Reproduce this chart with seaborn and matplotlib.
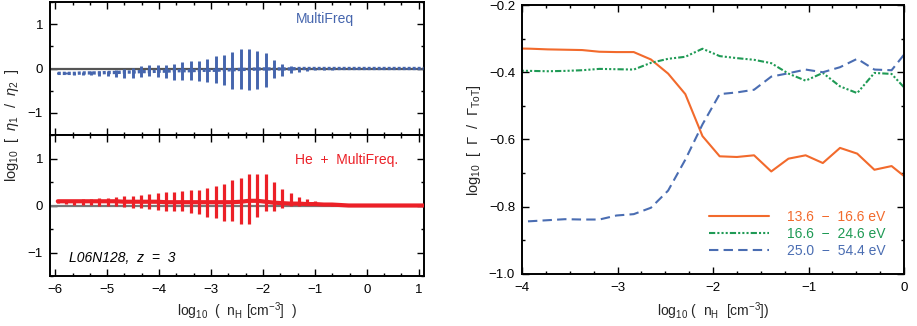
import numpy as np
import pandas as pd
import matplotlib
matplotlib.use("Agg")
import matplotlib.pyplot as plt
from matplotlib.ticker import MultipleLocator, AutoMinorLocator
import seaborn as sns

sns.set_theme(style="ticks")
plt.rcParams['font.family'] = ['Liberation Sans', 'DejaVu Sans']
plt.rcParams['mathtext.fontset'] = 'custom'
plt.rcParams['mathtext.rm'] = 'Liberation Sans'
plt.rcParams['mathtext.it'] = 'Liberation Sans:italic'

# ---------------- left panels data ----------------
nh_bins = [-5.95, -5.79, -5.63, -5.47, -5.31, -5.15, -4.99, -4.83, -4.67, -4.51,
           -4.35, -4.19, -4.03, -3.87, -3.71, -3.55, -3.39, -3.23, -3.07, -2.91,
           -2.75, -2.59, -2.43, -2.27, -2.11, -1.95, -1.79, -1.63, -1.47, -1.31,
           -1.15, -0.99, -0.83, -0.67, -0.51, -0.35, -0.19, -0.03, 0.13, 0.29,
           0.45, 0.61, 0.77, 0.93, 1.09]

mf_med = [-0.11, -0.11, -0.11, -0.10, -0.10, -0.10, -0.09, -0.09, -0.08, -0.08,
          -0.07, -0.07, -0.06, -0.06, -0.05, -0.05, -0.05, -0.04, -0.04, -0.04,
          -0.03, -0.03, -0.02, -0.02, -0.01, -0.01, -0.01, -0.01, -0.01, 0.0,
          0.0, 0.0, 0.0, 0.0, 0.0, 0.0, 0.0, 0.0, 0.0, 0.0,
          0.0, 0.0, 0.0, 0.0, 0.0]
mf_lo = [-0.13, -0.13, -0.14, -0.14, -0.15, -0.16, -0.17, -0.19, -0.21, -0.22,
         -0.19, -0.17, -0.19, -0.22, -0.25, -0.27, -0.25, -0.28, -0.30, -0.32,
         -0.37, -0.46, -0.47, -0.49, -0.47, -0.41, -0.21, -0.16, -0.11, -0.08,
         -0.05, -0.04, -0.03, -0.03, -0.02, -0.02, -0.02, -0.02, -0.02, -0.02,
         -0.02, -0.02, -0.02, -0.02, -0.02]
mf_hi = [-0.08, -0.08, -0.07, -0.07, -0.06, -0.05, -0.05, -0.04, -0.02, 0.015,
         0.05, 0.07, 0.07, 0.09, 0.11, 0.15, 0.18, 0.16, 0.22, 0.28,
         0.30, 0.37, 0.45, 0.45, 0.40, 0.34, 0.20, 0.10, 0.05, 0.015,
         0.0, 0.0, 0.0, 0.0, 0.01, 0.01, 0.01, 0.01, 0.01, 0.01,
         0.01, 0.01, 0.01, 0.01, 0.01]

he_med = [0.09, 0.09, 0.09, 0.09, 0.09, 0.09, 0.09, 0.09, 0.08, 0.08,
          0.08, 0.08, 0.08, 0.07, 0.07, 0.07, 0.07, 0.07, 0.07, 0.07,
          0.07, 0.07, 0.08, 0.10, 0.10, 0.08, 0.06, 0.05, 0.04, 0.04,
          0.03, 0.03, 0.02, 0.02, 0.01, 0.0, 0.0, 0.0, 0.0, 0.0,
          0.0, 0.0, 0.0, 0.0, 0.0]
he_lo = [0.06, 0.04, 0.02, 0.01, 0.01, 0.0, -0.01, -0.01, -0.03, -0.05,
         -0.06, -0.07, -0.09, -0.11, -0.12, -0.12, -0.16, -0.18, -0.24, -0.26,
         -0.32, -0.33, -0.39, -0.39, -0.25, -0.11, -0.11, -0.05, -0.01, 0.0,
         0.02, 0.02, 0.01, 0.0, -0.01, -0.01, -0.01, -0.01, -0.01, -0.01,
         -0.01, -0.01, -0.01, -0.01, -0.01]
he_hi = [0.11, 0.11, 0.11, 0.13, 0.14, 0.15, 0.16, 0.18, 0.20, 0.21,
         0.23, 0.25, 0.26, 0.28, 0.29, 0.30, 0.32, 0.34, 0.38, 0.41,
         0.46, 0.54, 0.59, 0.66, 0.67, 0.67, 0.50, 0.35, 0.27, 0.18,
         0.13, 0.09, 0.06, 0.04, 0.02, 0.01, 0.01, 0.01, 0.01, 0.01,
         0.01, 0.01, 0.01, 0.01, 0.01]

# ---------------- right panel data ----------------
nh_r = [-4.09, -3.91, -3.73, -3.55, -3.37, -3.19, -3.01, -2.83, -2.65, -2.47,
        -2.29, -2.11, -1.93, -1.75, -1.57, -1.39, -1.21, -1.03, -0.85, -0.67,
        -0.49, -0.31, -0.13, 0.05]
g_136_166 = [-0.329, -0.330, -0.332, -0.333, -0.334, -0.339, -0.340, -0.340, -0.362, -0.404,
             -0.465, -0.590, -0.650, -0.652, -0.647, -0.695, -0.657, -0.647, -0.670, -0.625,
             -0.642, -0.690, -0.679, -0.720]
g_166_246 = [-0.395, -0.396, -0.397, -0.396, -0.394, -0.390, -0.391, -0.392, -0.372, -0.360,
             -0.354, -0.330, -0.352, -0.358, -0.363, -0.373, -0.404, -0.425, -0.402, -0.442,
             -0.462, -0.402, -0.405, -0.460]
g_250_544 = [-0.845, -0.843, -0.840, -0.837, -0.838, -0.838, -0.826, -0.822, -0.803, -0.752,
             -0.660, -0.555, -0.465, -0.460, -0.452, -0.413, -0.403, -0.392, -0.400, -0.385,
             -0.360, -0.392, -0.394, -0.330]
band_labels = ["13.6  \u2212  16.6 eV", "16.6  \u2212  24.6 eV", "25.0  \u2212  54.4 eV"]

BLUE = "#4565ad"
RED = "#ec2027"
ORANGE = "#f26a2c"
GREEN = "#1f9a55"
LBLUE = "#4a6db2"

W, H = 917, 326
fig = plt.figure(figsize=(W / 100, H / 100), dpi=100)

def frac(x0, y0, x1, y1):
    return [x0 / W, 1 - y1 / H, (x1 - x0) / W, (y1 - y0) / H]

def ftext(px, py, s, **kw):
    return fig.text(px / W, 1 - py / H, s, ha='center', va='center', **kw)

ax1 = fig.add_axes(frac(50, 2, 424, 135))
ax2 = fig.add_axes(frac(50, 135, 424, 276))
ax3 = fig.add_axes(frac(522, 5, 904, 274))

df_l = pd.DataFrame({"nh": nh_bins, "mf_med": mf_med, "mf_lo": mf_lo, "mf_hi": mf_hi,
                     "he_med": he_med, "he_lo": he_lo, "he_hi": he_hi})

def style_axis(ax, fs=9.5):
    ax.tick_params(which='both', direction='in', top=True, right=True, labelsize=fs,
                   colors='black', width=1.0)
    ax.tick_params(which='major', length=5)
    ax.tick_params(which='minor', length=2.5)
    ax.tick_params(axis='x', pad=6)
    ax.tick_params(axis='y', pad=5)
    for s in ax.spines.values():
        s.set_linewidth(1.4)
        s.set_color('black')

# top-left
ax1.axhline(0, color='#555555', lw=1.6, zorder=1)
ax1.vlines(df_l["nh"], df_l["mf_lo"], df_l["mf_hi"], color=BLUE, lw=2.1, zorder=2)
sns.lineplot(data=df_l, x="nh", y="mf_med", ax=ax1, color=BLUE, lw=2.4, zorder=3)
ax1.lines[-1].set_dashes((0.9, 0.6))

# bottom-left
ax2.axhline(0, color='#777777', lw=1.6, zorder=1)
ax2.vlines(df_l["nh"], df_l["he_lo"], df_l["he_hi"], color=RED, lw=2.3, zorder=2)
sns.lineplot(data=df_l, x="nh", y="he_med", ax=ax2, color=RED, lw=3.0, zorder=3)

for ax in (ax1, ax2):
    ax.set_xlim(-6.1, 1.1)
    ax.set_ylim(-1.5, 1.5)
    ax.set_xlabel("")
    ax.set_ylabel("")
    ax.xaxis.set_major_locator(MultipleLocator(1))
    ax.xaxis.set_minor_locator(AutoMinorLocator(3))
    ax.yaxis.set_major_locator(MultipleLocator(1))
    ax.yaxis.set_minor_locator(MultipleLocator(0.5))
    style_axis(ax)
ax1.tick_params(labelbottom=False)

ftext(325, 19, "MultiFreq", color=BLUE, fontsize=10)
ftext(347, 160, "He  +  MultiFreq.", color=RED, fontsize=10)
ftext(122, 258, "L06N128,  z  =  3", color='black', fontsize=10, style='italic')
ftext(12, 125, r"log$_{10}$  [  $\eta_1$  /  $\eta_2$  ]", rotation=90, fontsize=10.5)
ftext(237, 311, r"log$_{10}$  (  n$_{\rm H}$ [cm$^{-3}$]  )", fontsize=10)

# right panel
df_r = pd.DataFrame({"nh": nh_r, band_labels[0]: g_136_166,
                     band_labels[1]: g_166_246, band_labels[2]: g_250_544})
long_r = df_r.melt(id_vars="nh", var_name="band", value_name="frac")
sns.lineplot(data=long_r, x="nh", y="frac", hue="band", style="band",
             hue_order=band_labels, style_order=band_labels,
             palette=[ORANGE, GREEN, LBLUE],
             dashes=[(None, None), (3, 1, 1, 1, 1, 1, 1, 1), (4.5, 2.5)],
             lw=1.5, ax=ax3)
ax3.set_xlim(-4, 0)
ax3.set_ylim(-1.0, -0.2)
ax3.set_xlabel("")
ax3.set_ylabel("")
ax3.xaxis.set_major_locator(MultipleLocator(1))
ax3.xaxis.set_minor_locator(AutoMinorLocator(4))
ax3.yaxis.set_major_locator(MultipleLocator(0.2))
ax3.yaxis.set_minor_locator(AutoMinorLocator(2))
style_axis(ax3)
leg = ax3.legend(loc='upper left', bbox_to_anchor=((709 - 522) / 382, (274 - 210) / 269),
                 frameon=False, borderpad=0, borderaxespad=0,
                 fontsize=10, handlelength=4.3, handletextpad=1.3, labelspacing=0.2,
                 labelcolor='linecolor')
ftext(474, 140, r"log$_{10}$  [  $\Gamma$  /  $\Gamma_{\rm ToT}$]", rotation=90, fontsize=10.5)
ftext(713, 311, r"log$_{10}$ (  n$_{\rm H}$  [cm$^{-3}$])", fontsize=10)

fig.savefig("out.png", dpi=100)
